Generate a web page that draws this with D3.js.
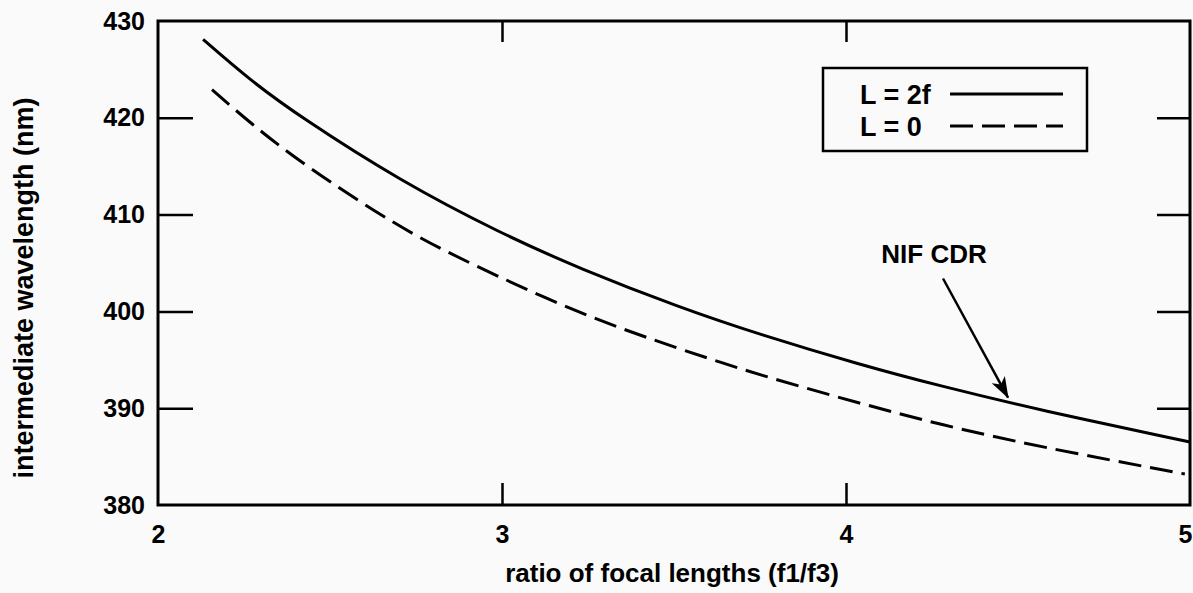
<!DOCTYPE html>
<html>
<head>
<meta charset="utf-8">
<script src="https://cdn.jsdelivr.net/npm/d3@7"></script>
<style>
  html, body { margin: 0; padding: 0; background: #fafafa; }
  svg { display: block; font-family: "Liberation Sans", Arial, Helvetica, sans-serif; font-weight: bold; }
</style>
</head>
<body>
<svg id="chart"></svg>
<script>
// Data
const ratioL2f = [2.131, 2.267, 2.413, 2.703, 2.994, 3.227, 3.517, 3.750, 4.041, 4.273, 4.564, 5.0];
const waveL2f  = [428.1, 423.9, 420.1, 413.5, 408.1, 404.4, 400.4, 397.6, 394.5, 392.3, 389.8, 386.5];

const ratioL0 = [2.157, 2.267, 2.413, 2.703, 2.898, 3.227, 3.517, 3.750, 4.041, 4.273, 4.564, 4.985];
const waveL0  = [422.9, 419.5, 415.4, 408.6, 405.1, 399.7, 396.1, 393.4, 390.5, 388.3, 386.0, 383.2];

const xTicks = [2, 3, 4, 5];
const yTicks = [380, 390, 400, 410, 420, 430];
const legendLabels = ["L = 2f", "L = 0"];

// annotation, in data units
const noteText = "NIF CDR";
const noteAt = [4.256, 405.0];
const arrowFrom = [4.282, 403.4];
const arrowTo = [4.471, 391.1];

// SVG setup
const width = 1193;
const height = 593;
const svg = d3.select("#chart").attr("width", width).attr("height", height);

const x = d3.scaleLinear().domain([2, 5]).range([158, 1190]);
const y = d3.scaleLinear().domain([380, 430]).range([505, 21]);

const seriesL2f = ratioL2f.map((r, i) => [r, waveL2f[i]]);
const seriesL0 = ratioL0.map((r, i) => [r, waveL0[i]]);

// Axes
const axBottom = svg.append("g")
  .attr("transform", `translate(0,${y(380)})`)
  .call(d3.axisBottom(x).tickValues(xTicks).tickFormat(d3.format("d"))
    .tickSizeInner(-22).tickSizeOuter(0).tickPadding(20));

const axLeft = svg.append("g")
  .attr("transform", `translate(${x(2)},0)`)
  .call(d3.axisLeft(y).tickValues(yTicks).tickFormat(d3.format("d"))
    .tickSizeInner(-35).tickSizeOuter(0).tickPadding(13));

const axTop = svg.append("g")
  .attr("transform", `translate(0,${y(430)})`)
  .call(d3.axisTop(x).tickValues([3, 4]).tickFormat("")
    .tickSizeInner(-21).tickSizeOuter(0));

const axRight = svg.append("g")
  .attr("transform", `translate(${x(5)},0)`)
  .call(d3.axisRight(y).tickValues([390, 400, 410, 420]).tickFormat("")
    .tickSizeInner(-33).tickSizeOuter(0));

[axBottom, axLeft, axTop, axRight].forEach(a => {
  a.select(".domain").remove();
  a.selectAll(".tick line").attr("stroke", "#000").attr("stroke-width", 2.5);
  a.selectAll(".tick text").attr("fill", "#000").style("font-size", "25px");
});
// corner ticks sit on the frame
axBottom.selectAll(".tick").filter(d => d === 2 || d === 5).select("line").remove();
axLeft.selectAll(".tick").filter(d => d === 380 || d === 430).select("line").remove();
// last label runs into the page edge; keep it inside
axBottom.selectAll(".tick").filter(d => d === 5).select("text")
  .attr("text-anchor", "end").attr("x", 2);

// Frame
svg.append("rect")
  .attr("x", x(2)).attr("y", y(430))
  .attr("width", x(5) - x(2)).attr("height", y(380) - y(430))
  .attr("fill", "none").attr("stroke", "#000").attr("stroke-width", 3);

// Axis titles
svg.append("text")
  .attr("x", (x(3) + x(4)) / 2 - 2).attr("y", 582)
  .attr("text-anchor", "middle").style("font-size", "26px")
  .text("ratio of focal lengths (f1/f3)");

svg.append("text")
  .attr("transform", `translate(33,${(y(380) + y(430)) / 2 + 25}) rotate(-90)`)
  .attr("text-anchor", "middle").style("font-size", "27px")
  .text("intermediate wavelength (nm)");

// Lines
const line = d3.line().x(d => x(d[0])).y(d => y(d[1])).curve(d3.curveBasis);

svg.append("path").datum(seriesL2f)
  .attr("d", line).attr("fill", "none")
  .attr("stroke", "#000").attr("stroke-width", 3);

svg.append("path").datum(seriesL0)
  .attr("d", line).attr("fill", "none")
  .attr("stroke", "#000").attr("stroke-width", 3)
  .attr("stroke-dasharray", "23,9");

// Legend
const legend = svg.append("g");
legend.append("rect")
  .attr("x", 823).attr("y", 68).attr("width", 264).attr("height", 83)
  .attr("fill", "none").attr("stroke", "#000").attr("stroke-width", 2.5);

legendLabels.forEach((lab, i) => {
  const ly = 94 + i * 32;
  legend.append("text")
    .attr("x", 860).attr("y", ly + 10)
    .style("font-size", "27px")
    .text(lab);
  legend.append("line")
    .attr("x1", 950).attr("x2", 1063).attr("y1", ly).attr("y2", ly)
    .attr("stroke", "#000").attr("stroke-width", 3)
    .attr("stroke-dasharray", i === 1 ? "23,9" : null);
});

// Annotation
svg.append("defs").append("marker")
  .attr("id", "head")
  .attr("viewBox", "0 0 20 14")
  .attr("refX", 19).attr("refY", 7)
  .attr("markerWidth", 22).attr("markerHeight", 15)
  .attr("markerUnits", "userSpaceOnUse")
  .attr("orient", "auto")
  .append("path")
  .attr("d", "M0,0 L20,7 L0,14 L5,7 Z")
  .attr("fill", "#000");

svg.append("text")
  .attr("x", x(noteAt[0])).attr("y", y(noteAt[1]))
  .attr("text-anchor", "middle").style("font-size", "26px")
  .text(noteText);

svg.append("line")
  .attr("x1", x(arrowFrom[0])).attr("y1", y(arrowFrom[1]))
  .attr("x2", x(arrowTo[0])).attr("y2", y(arrowTo[1]))
  .attr("stroke", "#000").attr("stroke-width", 2.5)
  .attr("marker-end", "url(#head)");
</script>
</body>
</html>
